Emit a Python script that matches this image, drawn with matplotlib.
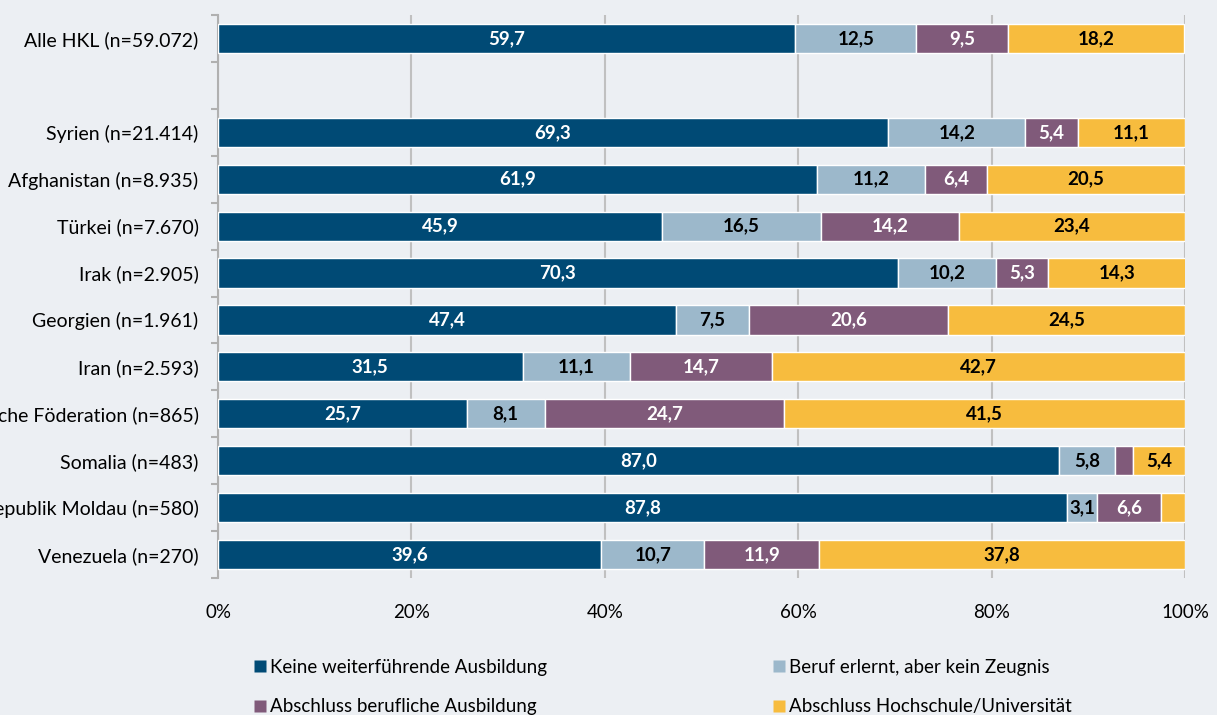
import matplotlib
matplotlib.use("Agg")
import matplotlib.pyplot as plt
from matplotlib.lines import Line2D
import numpy as np

plt.rcParams['font.family'] = ['Lato', 'DejaVu Sans']

categories = ["Alle HKL (n=59.072)", "", "Syrien (n=21.414)", "Afghanistan (n=8.935)",
              "Türkei (n=7.670)", "Irak (n=2.905)", "Georgien (n=1.961)", "Iran (n=2.593)",
              "Russische Föderation (n=865)", "Somalia (n=483)",
              "Republik Moldau (n=580)", "Venezuela (n=270)"]
keine = [59.7, None, 69.3, 61.9, 45.9, 70.3, 47.4, 31.5, 25.7, 87.0, 87.8, 39.6]
beruf_ohne = [12.5, None, 14.2, 11.2, 16.5, 10.2, 7.5, 11.1, 8.1, 5.8, 3.1, 10.7]
beruf_abschluss = [9.5, None, 5.4, 6.4, 14.2, 5.3, 20.6, 14.7, 24.7, 1.8, 6.6, 11.9]
hochschule = [18.2, None, 11.1, 20.5, 23.4, 14.3, 24.5, 42.7, 41.5, 5.4, 2.5, 37.8]
series_names = ["Keine weiterführende Ausbildung", "Beruf erlernt, aber kein Zeugnis",
                "Abschluss berufliche Ausbildung", "Abschluss Hochschule/Universität"]
colors = ["#004a75", "#9cb8cb", "#805a7a", "#f7bc3e"]
text_colors = ["white", "black", "white", "black"]
min_label = 2.6

bg = "#eceff3"
fig = plt.figure(figsize=(12.17, 7.15), dpi=100, facecolor=bg)
ax = fig.add_axes([218/1217, 1-578/715, (1185-218)/1217, (578-15)/715], facecolor=bg)

y = np.arange(len(categories))
left = np.zeros(len(categories))
for vals, col, tc in zip([keine, beruf_ohne, beruf_abschluss, hochschule], colors, text_colors):
    v = np.array([np.nan if x is None else x for x in vals], dtype=float)
    mask = ~np.isnan(v)
    ax.barh(y[mask], v[mask], left=left[mask], height=0.62, color=col,
            edgecolor="white", linewidth=1.0, zorder=3)
    for i in np.where(mask)[0]:
        if v[i] >= min_label:
            ax.text(left[i] + v[i]/2, y[i], f"{v[i]:.1f}".replace(".", ","),
                    ha="center", va="center", color=tc, fontsize=13.5, fontweight="bold", zorder=4)
    left[mask] += v[mask]

ax.set_xlim(0, 100)
ax.set_ylim(len(categories) - 0.5, -0.5)
ax.set_xticks([0, 20, 40, 60, 80, 100])
ax.set_xticklabels(["0%", "20%", "40%", "60%", "80%", "100%"], fontsize=13.5)
ax.set_yticks(y)
ax.set_yticklabels(categories, fontsize=14)
ax.set_yticks(np.arange(-0.5, len(categories), 1.0), minor=True)
ax.tick_params(axis="y", which="major", length=0, pad=14)
ax.tick_params(axis="y", which="minor", length=5, color="#b0b0b0", width=1.5)
ax.tick_params(axis="x", length=0, pad=19)
ax.grid(axis="x", color="#c0c0c0", linewidth=1.5, zorder=0)
for s in ["top", "right", "bottom"]:
    ax.spines[s].set_visible(False)
ax.spines["left"].set_color("#b0b0b0")
ax.spines["left"].set_linewidth(1.5)

handles = [Line2D([0], [0], marker="s", linestyle="none", markersize=8,
                  markerfacecolor=c, markeredgecolor="none") for c in colors]
order = [0, 2, 1, 3]
fig.legend([handles[i] for i in order], [series_names[i] for i in order],
           loc="upper left", bbox_to_anchor=(236/1217, 1-642/715),
           ncol=2, frameon=False, fontsize=13.5, handletextpad=0.1, columnspacing=12.0,
           labelspacing=1.2, handlelength=0.8)

fig.savefig("out.png", dpi=100, facecolor=bg)
